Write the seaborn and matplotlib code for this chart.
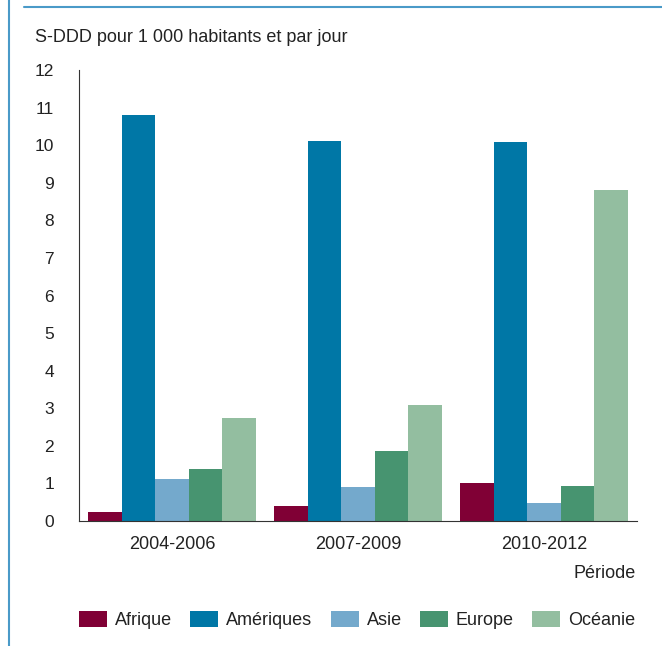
import numpy as np
import pandas as pd
import matplotlib
matplotlib.use('Agg')
import matplotlib.pyplot as plt
from matplotlib.lines import Line2D
from matplotlib.ticker import FixedLocator
import seaborn as sns

## ============================================================= ##

periods = ['2004-2006', '2007-2009', '2010-2012']
regions = ['Afrique', 'Amériques', 'Asie', 'Europe', 'Océanie']

afrique = [0.25, 0.39, 1.00]
ameriques = [10.80, 10.10, 10.08]
asie = [1.11, 0.90, 0.47]
europe = [1.38, 1.87, 0.92]
oceanie = [2.74, 3.09, 8.82]

colors = ['#800035', '#0077a6', '#74a9cc', '#479470', '#93bea0']

## ============================================================= ##

values = [afrique, ameriques, asie, europe, oceanie]
rows = []
for region, vals in zip(regions, values):
	for period, v in zip(periods, vals):
		rows.append({'period': period, 'region': region, 'value': v})
df = pd.DataFrame(rows)

sns.set_style('white')
plt.rcParams['font.family'] = ['Liberation Sans', 'DejaVu Sans']

fig = plt.figure(figsize=(6.62, 6.46), dpi=100)
ax = fig.add_axes([79 / 662., 1 - 521 / 646., (637 - 79) / 662., (521 - 70) / 646.])

sns.barplot(data=df, x='period', y='value', hue='region', order=periods,
	hue_order=regions, palette=colors, width=0.905, saturation=1,
	edgecolor='none', linewidth=0, ax=ax, legend=True)

ax.set_ylim(0, 12)
ax.set_xlim(-0.5, 2.5)
ax.set_yticks(range(0, 13))
ax.tick_params(axis='y', direction='out', length=13, width=1, color='#333333',
	labelsize=12.5, pad=5, labelcolor='#222222')
ax.tick_params(axis='x', which='major', length=0, labelsize=13, pad=11, labelcolor='#222222')
ax.xaxis.set_minor_locator(FixedLocator([-0.5, 0.5, 1.5, 2.5]))
ax.tick_params(axis='x', which='minor', direction='out', length=11, width=1, color='#333333')

sns.despine(ax=ax, top=True, right=True)
ax.spines['left'].set_color('#333333')
ax.spines['bottom'].set_color('#333333')
ax.set_xlabel('')
ax.set_ylabel('')

fig.text(35 / 662., 1 - 38 / 646., 'S-DDD pour 1 000 habitants et par jour',
	fontsize=13, color='#222222', va='center', ha='left')
fig.text(636 / 662., 1 - 573 / 646., 'Période', fontsize=13, color='#222222',
	va='center', ha='right')

handles, labels = ax.get_legend_handles_labels()
ax.get_legend().remove()
fig.legend(handles, labels, loc='center left', bbox_to_anchor=(79 / 662., 1 - 620 / 646.),
	ncol=5, frameon=False, fontsize=13, handlelength=1.55, handleheight=0.95,
	handletextpad=0.45, columnspacing=1.0, borderpad=0, borderaxespad=0,
	labelcolor='#222222')

# frame decorations
fig.add_artist(Line2D([8.5 / 662., 8.5 / 662.], [0, 1], color='#4a9ac8', lw=1.5,
	transform=fig.transFigure))
fig.add_artist(Line2D([24 / 662., 1], [1 - 7 / 646., 1 - 7 / 646.], color='#4a9ac8', lw=1.5,
	transform=fig.transFigure))

fig.savefig('out.png', dpi=100)
